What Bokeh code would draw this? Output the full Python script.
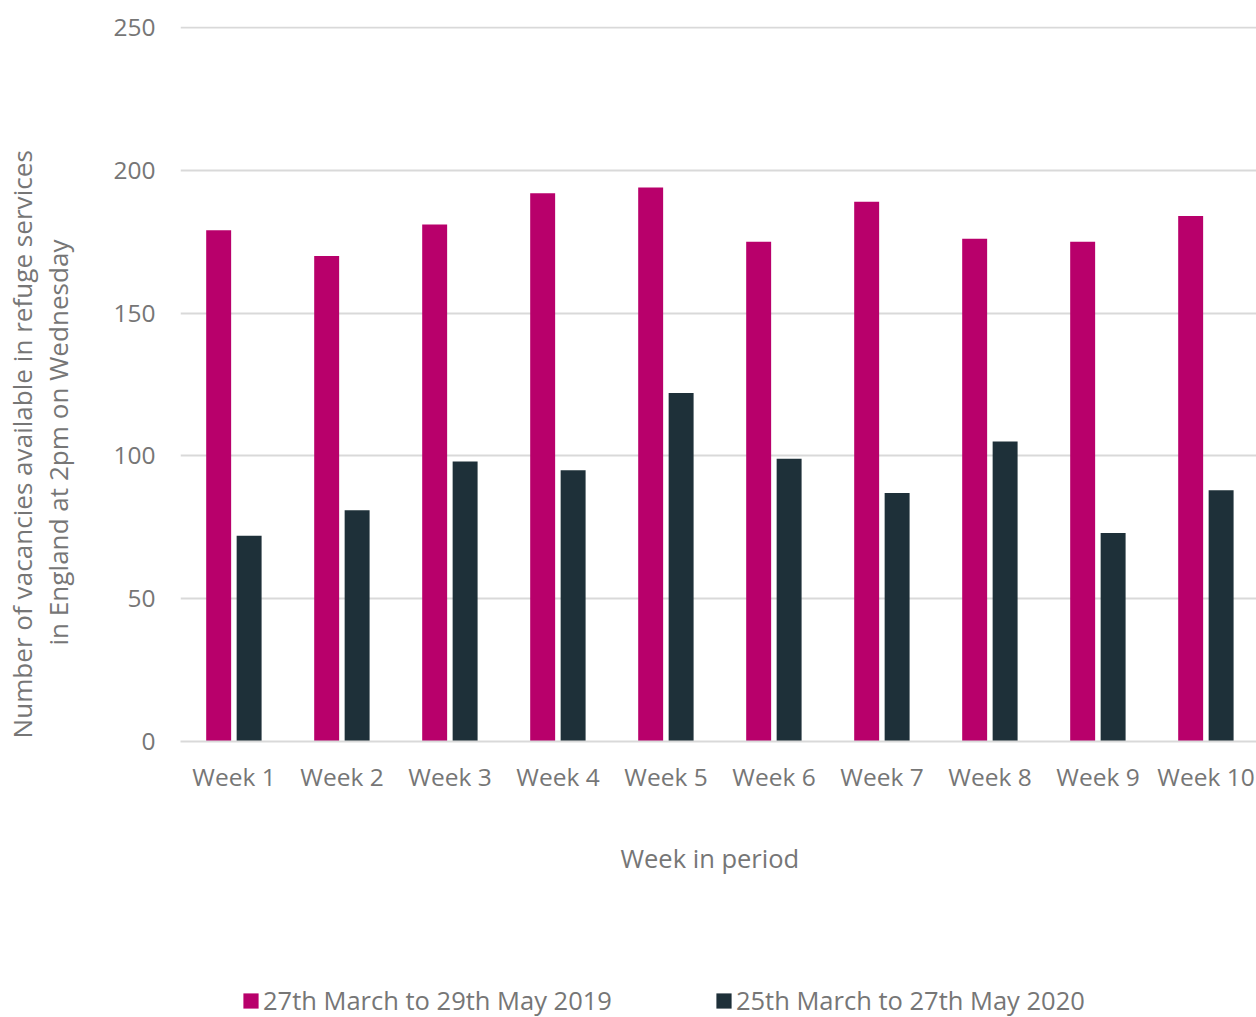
import numpy as np
from bokeh.plotting import figure
from bokeh.layouts import column
from bokeh.models import (ColumnDataSource, Range1d, Legend, LegendItem, Title,
                          FixedTicker)
from bokeh.embed import file_html
from bokeh.resources import INLINE

weeks = ["Week 1", "Week 2", "Week 3", "Week 4", "Week 5",
         "Week 6", "Week 7", "Week 8", "Week 9", "Week 10"]
vac_2019 = [179, 170, 181, 192, 194, 175, 189, 176, 175, 184]
vac_2020 = [72, 81, 98, 95, 122, 99, 87, 105, 73, 88]
series_names = ["27th March to 29th May 2019", "25th March to 27th May 2020"]
y_ticks = [0, 50, 100, 150, 200, 250]
y_title = ["Number of vacancies available in refuge services",
           "in England at 2pm on Wednesday"]
x_title = "Week in period"

PINK = "#B8006B"
DARK = "#1E3039"
TXT = "#767676"
GRID = "#D9D9D9"
FONT = "Open Sans"
FS_TICK = "24.5px"
FS_YT = "26.1px"
FS_XT = "25.5px"
FS_LEG = "25.5px"

pos = np.arange(1, len(weeks) + 1)
src = ColumnDataSource(dict(x1=pos - 0.142, x2=pos + 0.14, a=vac_2019, b=vac_2020))

H_MAIN = 961
p = figure(width=1256, height=H_MAIN, output_backend="svg", toolbar_location=None,
           x_range=Range1d(0.5046, 10.4676), y_range=Range1d(0, 250.35),
           min_border_left=180, min_border_right=0, min_border_top=26,
           min_border_bottom=H_MAIN - 741)
p.outline_line_color = None

r1 = p.vbar(x="x1", top="a", bottom=0, width=0.231, source=src, fill_color=PINK, line_color=None)
r2 = p.vbar(x="x2", top="b", bottom=0, width=0.231, source=src, fill_color=DARK, line_color=None)

p.xgrid.grid_line_color = None
p.ygrid.grid_line_color = GRID
p.ygrid.grid_line_width = 2

p.yaxis.ticker = FixedTicker(ticks=y_ticks)
p.yaxis.axis_line_color = None
p.yaxis.major_tick_line_color = None
p.yaxis.minor_tick_line_color = None
p.yaxis.major_label_standoff = 19
p.yaxis.major_label_text_font = FONT
p.yaxis.major_label_text_font_size = FS_TICK
p.yaxis.major_label_text_color = TXT
p.yaxis.axis_label = " "
p.yaxis.axis_label_text_font_size = "1px"
p.yaxis.axis_label_standoff = 29

p.xaxis.ticker = FixedTicker(ticks=list(pos))
p.xaxis.major_label_overrides = {int(i): w for i, w in zip(pos, weeks)}
p.xaxis.axis_line_color = GRID
p.xaxis.axis_line_width = 2
p.xaxis.major_tick_line_color = None
p.xaxis.minor_tick_line_color = None
p.xaxis.major_label_standoff = 12
p.xaxis.major_label_text_font = FONT
p.xaxis.major_label_text_font_size = FS_TICK
p.xaxis.major_label_text_color = TXT

t2 = Title(text=y_title[1], align="left", offset=96, vertical_align="top", standoff=0,
           text_font=FONT, text_font_size=FS_YT, text_color=TXT, text_font_style="normal")
t1 = Title(text=y_title[0], align="left", offset=3, vertical_align="bottom", standoff=0,
           text_font=FONT, text_font_size=FS_YT, text_color=TXT, text_font_style="normal")
p.add_layout(t2, "left")
p.add_layout(t1, "left")

tx = Title(text=x_title, align="left", offset=440, vertical_align="top", standoff=90,
           text_font=FONT, text_font_size=FS_XT, text_color=TXT, text_font_style="normal")
p.add_layout(tx, "below")

# legend strip below the chart (its frame is aligned with the chart's frame)
H_LEG = 1017 - H_MAIN
pl = figure(width=1256, height=H_LEG, output_backend="svg", toolbar_location=None,
            x_range=Range1d(-2, -1), y_range=Range1d(0, 1),
            x_axis_type=None, y_axis_type=None, min_border=0)
pl.outline_line_color = None
pl.xgrid.visible = False
pl.ygrid.visible = False
g1 = pl.vbar(x=pos, top=vac_2019, width=0.1, fill_color=PINK, line_color=None)
g2 = pl.vbar(x=pos, top=vac_2020, width=0.1, fill_color=DARK, line_color=None)
legend = Legend(items=[LegendItem(label=series_names[0], renderers=[g1]),
                       LegendItem(label=series_names[1], renderers=[g2])],
                orientation="horizontal", location=(61, 0),
                glyph_width=19, glyph_height=19, label_standoff=3, spacing=102,
                padding=0, margin=0, border_line_color=None, background_fill_alpha=0,
                label_text_font=FONT, label_text_font_size=FS_LEG, label_text_color=TXT)
pl.add_layout(legend, "center")

layout = column(p, pl, spacing=0)
open("out.html", "w").write(file_html(layout, INLINE))
